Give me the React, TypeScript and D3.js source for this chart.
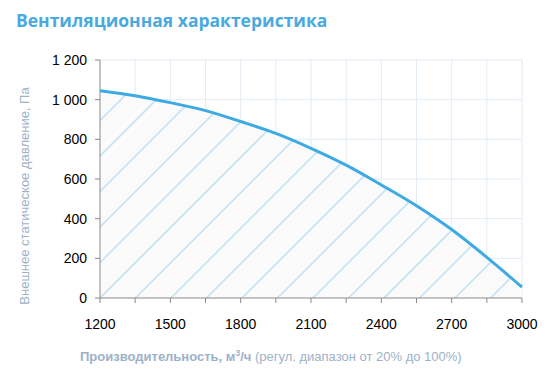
import React from "react";
import * as d3 from "d3";

// Flow, m3/h
const flow = [1200, 1350, 1500, 1650, 1800, 1950, 2100, 2250, 2400, 2550, 2700, 2850, 3000];
// External static pressure, Pa
const pressure = [1045, 1020, 985, 945, 890, 830, 755, 670, 570, 465, 345, 205, 55];

const xTicks = [1200, 1350, 1500, 1650, 1800, 1950, 2100, 2250, 2400, 2550, 2700, 2850, 3000];
const xLabels = [1200, 1500, 1800, 2100, 2400, 2700, 3000];
const yTicks = [0, 200, 400, 600, 800, 1000, 1200];

const W = 552;
const H = 385;
const margin = { left: 100, right: 30, top: 60, bottom: 87 };

export default function App() {
  const x = d3.scaleLinear().domain([1200, 3000]).range([margin.left, W - margin.right]);
  const y = d3.scaleLinear().domain([0, 1200]).range([H - margin.bottom, margin.top]);

  const pts: [number, number][] = flow.map((f, i) => [f, pressure[i]]);
  const line = d3
    .line<[number, number]>()
    .x((d) => x(d[0]))
    .y((d) => y(d[1]))
    .curve(d3.curveMonotoneX);
  const area = d3
    .area<[number, number]>()
    .x((d) => x(d[0]))
    .y0(y(0))
    .y1((d) => y(d[1]))
    .curve(d3.curveMonotoneX);

  const fmt = (v: number) => d3.format(",")(v).replace(",", " ");

  // diagonal hatch lines at 45 degrees
  const step = 35.5;
  const hatch: number[] = d3.range(-10, 30).map((i) => i * step);

  const x0 = x(1200);
  const y0 = y(0);

  return (
    <svg width={W} height={H} style={{ position: "absolute", left: 0, top: 0 }}>
      <defs>
        <clipPath id="under">
          <path d={area(pts) || ""} />
        </clipPath>
      </defs>
      <text x={16} y={27} fill="#4aa9df" fontFamily="'Open Sans', sans-serif" fontWeight="bold" fontSize={17.5}>
        Вентиляционная характеристика
      </text>

      {/* grid */}
      {yTicks.slice(1).map((t) => (
        <line key={"h" + t} x1={x0} x2={x(3000)} y1={y(t)} y2={y(t)} stroke="#e3ebf5" strokeWidth={1} />
      ))}
      {xTicks.slice(1).map((t) => (
        <line key={"v" + t} x1={x(t)} x2={x(t)} y1={y(1200)} y2={y0} stroke="#e3ebf5" strokeWidth={1} />
      ))}

      {/* hatched area */}
      <path d={area(pts) || ""} fill="#fbfbfc" />
      <g clipPath="url(#under)">
        {hatch.map((o) => (
          <line
            key={"d" + o}
            x1={x0 + o - 400}
            y1={y0 + 400}
            x2={x0 + o + 400}
            y2={y0 - 400}
            stroke="#c8e4f2"
            strokeWidth={1.8}
          />
        ))}
      </g>

      {/* axes */}
      <line x1={x0} x2={x0} y1={y(1200)} y2={y0} stroke="#898989" />
      <line x1={x0} x2={x(3000)} y1={y0} y2={y0} stroke="#898989" />
      {yTicks.map((t) => (
        <g key={"yt" + t}>
          <line x1={x0 - 5} x2={x0} y1={y(t)} y2={y(t)} stroke="#898989" />
          <text x={x0 - 13} y={y(t)} dy="0.35em" textAnchor="end" fontFamily="'Liberation Sans', sans-serif" fontSize={14} fill="#000">
            {fmt(t)}
          </text>
        </g>
      ))}
      {xTicks.map((t) => (
        <line key={"xt" + t} x1={x(t)} x2={x(t)} y1={y0} y2={y0 + 5} stroke="#898989" />
      ))}
      {xLabels.map((t) => (
        <text key={"xl" + t} x={x(t)} y={y0 + 31} textAnchor="middle" fontFamily="'Liberation Sans', sans-serif" fontSize={14} fill="#000">
          {t}
        </text>
      ))}

      {/* curve */}
      <path d={line(pts) || ""} fill="none" stroke="#3eaae3" strokeWidth={3} />

      {/* axis titles */}
      <text
        transform={`translate(29,${(y(1200) + y0) / 2 + 17}) rotate(-90)`}
        textAnchor="middle"
        fontFamily="'Liberation Sans', sans-serif"
        fontSize={13}
        fill="#9db2c8"
      >
        Внешнее статическое давление, Па
      </text>
      <text x={80} y={361} fontFamily="'Liberation Sans', sans-serif" fontSize={13} fill="#9db2c8">
        <tspan fontWeight="bold">Производительность, м</tspan>
        <tspan fontWeight="bold" dy={-5} fontSize={8.5}>3</tspan>
        <tspan fontWeight="bold" dy={5}>/ч</tspan>
        <tspan> (регул. диапазон от 20% до 100%)</tspan>
      </text>
    </svg>
  );
}
